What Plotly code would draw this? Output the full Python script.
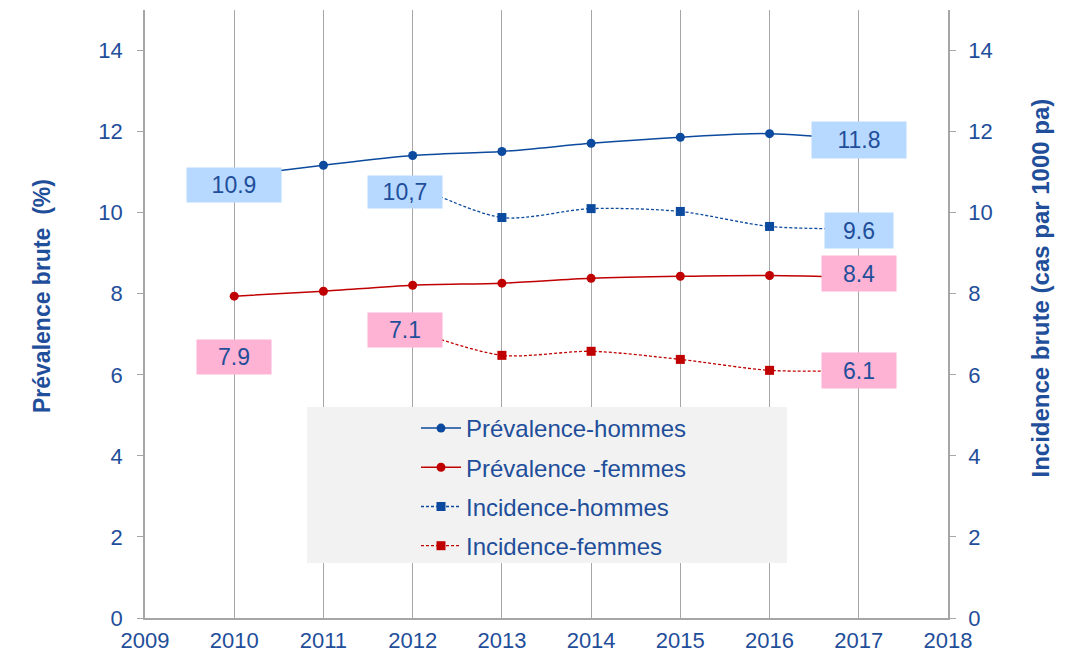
import plotly.graph_objects as go

years = [2010, 2011, 2012, 2013, 2014, 2015, 2016, 2017]
prev_hommes = [10.9, 11.17, 11.41, 11.51, 11.71, 11.86, 11.95, 11.8]
prev_femmes = [7.94, 8.06, 8.21, 8.26, 8.38, 8.43, 8.45, 8.4]
inc_years = [2012, 2013, 2014, 2015, 2016, 2017]
inc_hommes = [10.7, 9.88, 10.1, 10.03, 9.66, 9.6]
inc_femmes = [7.1, 6.48, 6.58, 6.38, 6.11, 6.1]
ticks = [0, 2, 4, 6, 8, 10, 12, 14]
year_ticks = list(range(2009, 2019))

# labels: (x, y, text, axis, bg, xshift, yshift, width, height)
labels = [
    (2010, prev_hommes[0], "10.9", "y", "#B7D9FF", 0, -9, 92, 32),
    (2017, prev_hommes[-1], "11.8", "y", "#B7D9FF", 0, 0, 92, 34),
    (2010, prev_femmes[0], "7.9", "y", "#FFB3D4", 0, -61, 72, 32),
    (2017, prev_femmes[-1], "8.4", "y", "#FFB3D4", 0, 4, 72, 33),
    (2012, inc_hommes[0], "10,7", "y2", "#B7D9FF", -8, -8, 72, 30),
    (2017, inc_hommes[-1], "9.6", "y2", "#B7D9FF", 0, -2, 66, 33),
    (2012, inc_femmes[0], "7.1", "y2", "#FFB3D4", -8, 0, 72, 32),
    (2017, inc_femmes[-1], "6.1", "y2", "#FFB3D4", 0, 0, 72, 33),
]

BLUE = "#0B4A9E"
RED = "#C00000"
TXT = "#1F4E9A"
GRID = "#A6A6A6"
FONT = "Liberation Sans, Arial, sans-serif"

# plot area in page pixels (page has an 8px body margin)
PX0, PX1, PY0, PY1 = 145, 948, 10, 618
PW, PH = PX1 - PX0, PY1 - PY0

fig = go.Figure()
fig.add_trace(go.Scatter(x=years, y=prev_hommes, name="Prévalence-hommes",
                         mode="lines+markers", legendgroup="a",
                         line=dict(color=BLUE, width=1.5, shape="spline", smoothing=0.8),
                         marker=dict(symbol="circle", size=9, color=BLUE)))
fig.add_trace(go.Scatter(x=years, y=prev_femmes, name="Prévalence -femmes",
                         mode="lines+markers", legendgroup="b",
                         line=dict(color=RED, width=1.5, shape="spline", smoothing=0.8),
                         marker=dict(symbol="circle", size=9, color=RED)))
fig.add_trace(go.Scatter(x=inc_years, y=inc_hommes, name="Incidence-hommes",
                         mode="lines+markers", yaxis="y2", legendgroup="c",
                         line=dict(color=BLUE, width=1.3, dash="3px,2px", shape="spline", smoothing=0.8),
                         marker=dict(symbol="square", size=9, color=BLUE)))
fig.add_trace(go.Scatter(x=inc_years, y=inc_femmes, name="Incidence-femmes",
                         mode="lines+markers", yaxis="y2", legendgroup="d",
                         line=dict(color=RED, width=1.3, dash="3px,2px", shape="spline", smoothing=0.8),
                         marker=dict(symbol="square", size=9, color=RED)))

annotations = []
for x, y, t, ax, bg, xs, ys, w, h in labels:
    annotations.append(dict(x=x, y=y, xref="x", yref=ax, text=t, showarrow=False,
                            bgcolor=bg, width=w, height=h, xshift=xs, yshift=ys,
                            font=dict(family=FONT, size=23, color=TXT)))

# axis titles
annotations.append(dict(x=(27 - PX0) / PW, y=(PY1 - 296) / PH, xref="paper", yref="paper",
                        text="<b>Prévalence brute  (%)</b>", showarrow=False,
                        textangle=-90, font=dict(family=FONT, size=23, color=TXT)))
annotations.append(dict(x=(1055 - PX0) / PW, y=(PY1 - 288) / PH, xref="paper", yref="paper",
                        text="<b>Incidence brute (cas par 1000 pa)</b>", showarrow=False,
                        textangle=-90, font=dict(family=FONT, size=24, color=TXT)))

fig.update_layout(
    width=1062, height=651,
    margin=dict(l=PX0 - 8, r=1070 - PX1, t=PY0 - 8, b=659 - PY1, autoexpand=False),
    paper_bgcolor="white", plot_bgcolor="white",
    font=dict(family=FONT, size=22, color=TXT),
    showlegend=True,
    legend=dict(x=(416 - PX0) / PW, y=(PY1 - 406) / PH, xanchor="left", yanchor="top",
                bgcolor="rgba(0,0,0,0)", font=dict(family=FONT, size=24, color=TXT),
                tracegroupgap=5, itemwidth=40),
    xaxis=dict(range=[2009, 2018], tickvals=year_ticks, showgrid=True, automargin=False,
               gridcolor=GRID, gridwidth=1.3, showline=True, linecolor=GRID, linewidth=1.5,
               zeroline=False, ticks="", ticklabelstandoff=2,
               tickfont=dict(size=22, color=TXT)),
    yaxis=dict(range=[0, 15], tickvals=ticks, showgrid=False, zeroline=False, automargin=False,
               showline=True, linecolor=GRID, linewidth=1.5, ticks="outside",
               ticklen=6, tickcolor=GRID, ticklabelstandoff=10,
               tickfont=dict(size=22, color=TXT)),
    yaxis2=dict(range=[0, 15], tickvals=ticks, overlaying="y", side="right", automargin=False,
                showgrid=False, zeroline=False, showline=True, linecolor=GRID,
                linewidth=1.5, ticks="outside", ticklen=6, tickcolor=GRID,
                ticklabelstandoff=8, tickfont=dict(size=22, color=TXT)),
    shapes=[dict(type="rect", xref="paper", yref="paper",
                 x0=(307 - PX0) / PW, x1=(787 - PX0) / PW,
                 y0=(PY1 - 563) / PH, y1=(PY1 - 407) / PH,
                 fillcolor="#F2F2F2", line=dict(width=0), layer="above")],
    annotations=annotations,
)

fig.write_html("out.html")
